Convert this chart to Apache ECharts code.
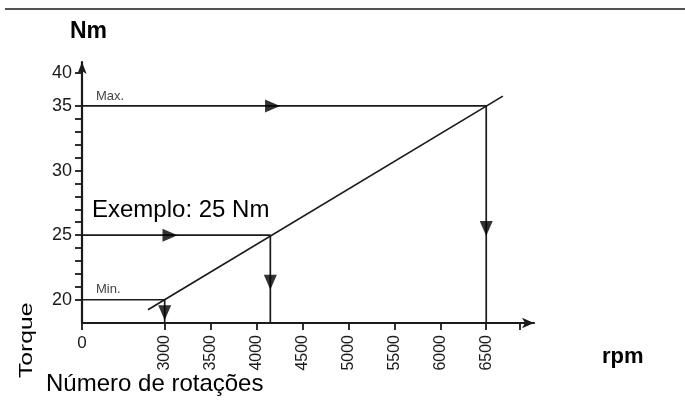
<!DOCTYPE html>
<html>
<head>
<meta charset="utf-8">
<script src="https://cdn.jsdelivr.net/npm/echarts@6/dist/echarts.min.js"></script>
<style>
  html, body { margin: 0; padding: 0; background: #fff; }
  #chart { width: 685px; height: 409px; }
</style>
</head>
<body>
<div id="chart"></div>
<script>
// torque vs rpm selection chart (axes are broken: 0 rpm and 40 Nm are compressed)
var xTickValues = [2100, 3000, 3500, 4000, 4500, 5000, 5500, 6000, 6500, 6870];
var xTickLabels = ['', '3000', '3500', '4000', '4500', '5000', '5500', '6000', '6500', ''];
var yTickValues = [20, 21, 22, 23, 24, 25, 26, 27, 28, 29, 30, 31, 32, 33, 34, 35, 37.55];
var yLabelValues = [20, 25, 30, 35, 37.55];
var yLabelText = ['20', '25', '30', '35', '40'];

// characteristic line
var curve = [[2818, 19.22], [6681, 35.76]];
// reading guides
var guideMax = [[2100, 35], [6500, 35], [6500, 18.2]];
var guideExample = [[2100, 25], [4150, 25], [4150, 18.2]];
var guideMin = [[2100, 20], [3000, 20], [3000, 18.2]];
// arrow heads
var arrowsRight = [[4174, 35], [3058, 25]];
var arrowsDown = [[6500, 25.52], [4150, 21.35], [3000, 18.99]];

var FONT = '"Liberation Sans", Arial, sans-serif';
var INK = '#1a1a1a';

var chart = echarts.init(document.getElementById('chart'));

function guide(data) {
	return {
		type: 'line',
		data: data,
		showSymbol: false,
		silent: true,
		lineStyle: { color: INK, width: 1.7 }
	};
}

var option = {
	animation: false,
	backgroundColor: '#fff',
	grid: { left: 82, right: 151, top: 62, bottom: 86 },
	xAxis: [
		{
			type: 'value',
			min: 2100,
			max: 7020,
			splitLine: { show: false },
			axisLine: {
				show: true, onZero: false,
				symbol: ['none', 'arrow'], symbolSize: [8, 12],
				lineStyle: { color: INK, width: 2.2 }
			},
			axisTick: {
				show: true, length: 7, customValues: xTickValues,
				lineStyle: { color: INK, width: 1.8 }
			},
			axisLabel: {
				customValues: xTickValues,
				rotate: 90,
				margin: 12,
				fontFamily: FONT, fontSize: 16, color: INK,
				formatter: function (v) {
					var i = xTickValues.indexOf(v);
					return i >= 0 ? xTickLabels[i] : '';
				}
			}
		},
		{
			// upright "0" at the origin
			type: 'value',
			min: 2100,
			max: 7020,
			position: 'bottom',
			splitLine: { show: false },
			axisLine: { show: false },
			axisTick: { show: false },
			axisLabel: {
				customValues: [2100],
				margin: 12,
				fontFamily: FONT, fontSize: 17, color: INK,
				formatter: function () { return '0'; }
			}
		}
	],
	yAxis: {
		type: 'value',
		min: 18.2,
		max: 38.4,
		splitLine: { show: false },
		axisLine: {
			show: true, onZero: false,
			symbol: ['none', 'arrow'], symbolSize: [7, 12],
			lineStyle: { color: INK, width: 2.2 }
		},
		axisTick: {
			show: true, length: 7, customValues: yTickValues,
			lineStyle: { color: INK, width: 1.8 }
		},
		axisLabel: {
			customValues: yLabelValues,
			margin: 10,
			fontFamily: FONT, fontSize: 18, color: INK,
			formatter: function (v) {
				for (var i = 0; i < yLabelValues.length; i++) {
					if (Math.abs(yLabelValues[i] - v) < 0.01) return yLabelText[i];
				}
				return '';
			}
		}
	},
	series: [
		{
			type: 'line',
			data: curve,
			showSymbol: false,
			silent: true,
			lineStyle: { color: INK, width: 1.7 }
		},
		guide(guideMax),
		guide(guideExample),
		guide(guideMin),
		{
			type: 'scatter',
			data: arrowsRight,
			symbol: 'triangle',
			symbolSize: [13, 15],
			symbolRotate: -90,
			itemStyle: { color: '#000' },
			silent: true,
			z: 5
		},
		{
			type: 'scatter',
			data: arrowsDown,
			symbol: 'triangle',
			symbolSize: [13, 15],
			symbolRotate: 180,
			itemStyle: { color: '#000' },
			silent: true,
			z: 5
		}
	],
	graphic: [
		{ type: 'line', shape: { x1: 5, y1: 9, x2: 685, y2: 9 }, style: { stroke: INK, lineWidth: 1.5 } },
		{ type: 'text', left: 70, top: 20, style: { text: 'Nm', font: 'bold 23px ' + FONT, fill: '#000' } },
		{ type: 'text', left: 96, top: 90, style: { text: 'Max.', font: '13px ' + FONT, fill: '#444' } },
		{ type: 'text', left: 96, top: 283, style: { text: 'Min.', font: '13px ' + FONT, fill: '#444' } },
		{ type: 'text', left: 92, top: 198, style: { text: 'Exemplo: 25 Nm', font: '24px ' + FONT, fill: '#000' } },
		{ type: 'text', left: 602, top: 346, style: { text: 'rpm', font: 'bold 22px ' + FONT, fill: '#000' } },
		{ type: 'text', left: 46, top: 372, style: { text: 'Número de rotações', font: '24px ' + FONT, fill: '#000' } },
		{
			type: 'text', x: 17, y: 378, rotation: Math.PI / 2, scaleX: 1.3,
			style: { text: 'Torque', font: '19px ' + FONT, fill: '#000', textVerticalAlign: 'top' }
		}
	]
};

chart.setOption(option);
window.addEventListener('resize', chart.resize);
</script>
</body>
</html>
